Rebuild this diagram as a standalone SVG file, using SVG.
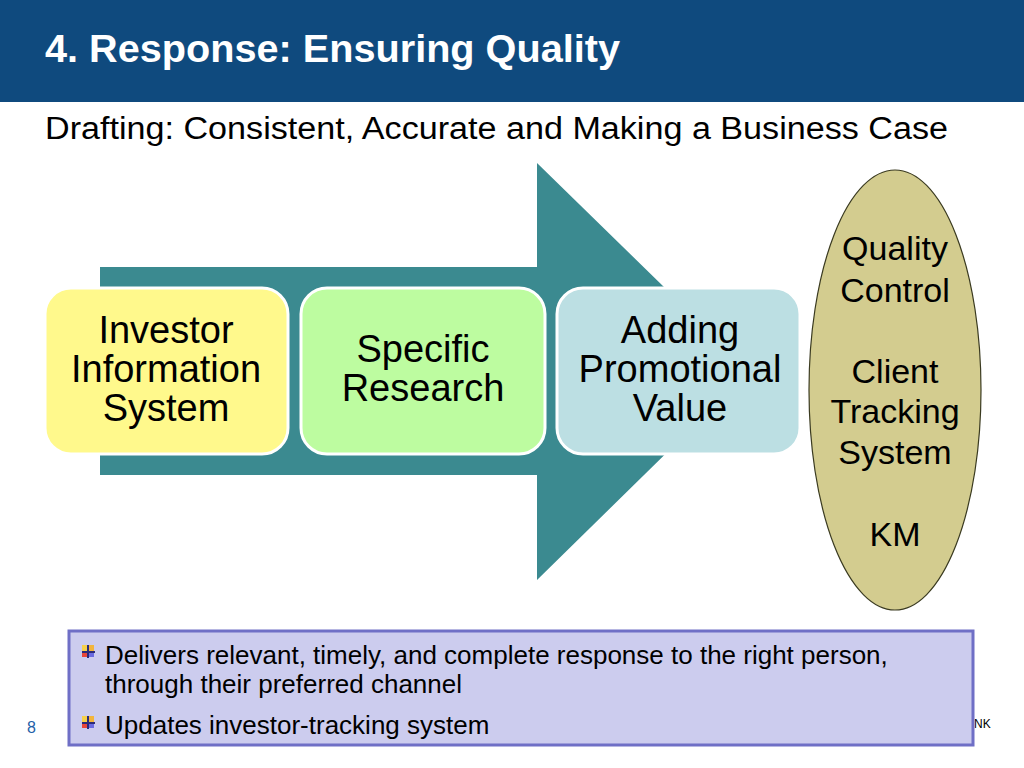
<svg xmlns="http://www.w3.org/2000/svg" width="1024" height="768" viewBox="0 0 1024 768">
<style>
  text { font-family: "Liberation Sans", Arial, sans-serif; fill: #000; }
  .title { font-size: 38px; font-weight: bold; fill: #fff; }
  .sub { font-size: 31px; }
  .box { stroke: #fff; stroke-width: 3; }
  .bt { font-size: 38px; text-anchor: middle; }
  .et { font-size: 34px; text-anchor: middle; }
  .bl { font-size: 26px; }
</style>
<defs>
  <g id="bullet">
    <rect x="0" y="0" width="6" height="6" fill="#f6d04a"/>
    <rect x="6" y="0" width="6" height="6" fill="#f3b53b"/>
    <rect x="0" y="6" width="6" height="6" fill="#e8463a"/>
    <rect x="6" y="6" width="6" height="6" fill="#6a6ae0"/>
    <rect x="5" y="0" width="2" height="13" fill="#2b2b7a"/>
    <rect x="0" y="6" width="13" height="2" fill="#2b2b7a"/>
  </g>
</defs>
<rect x="0" y="0" width="1024" height="768" fill="#fff"/>
<g id="header">
  <rect x="0" y="0" width="1024" height="102" fill="#0f4a7e"/>
  <text class="title" x="45" y="62" textLength="575" lengthAdjust="spacingAndGlyphs">4. Response: Ensuring Quality</text>
  <text class="sub" x="45" y="139" textLength="903" lengthAdjust="spacingAndGlyphs">Drafting: Consistent, Accurate and Making a Business Case</text>
</g>
<g id="arrow">
  <path d="M100 267 H537 V163 L750 371 L537 580 V475 H100 Z" fill="#3b8a90"/>
</g>
<g id="node-investor">
  <rect class="box" x="45" y="288" width="243" height="166" rx="26" fill="#fff98c"/>
  <text class="bt" x="166" y="343">Investor</text>
  <text class="bt" x="166" y="382">Information</text>
  <text class="bt" x="166" y="421">System</text>
</g>
<g id="node-research">
  <rect class="box" x="301" y="288" width="244" height="166" rx="26" fill="#bdfca0"/>
  <text class="bt" x="423" y="362">Specific</text>
  <text class="bt" x="423" y="401">Research</text>
</g>
<g id="node-promo">
  <rect class="box" x="557" y="288" width="243" height="166" rx="26" fill="#bcdfe3"/>
  <text class="bt" x="680" y="343">Adding</text>
  <text class="bt" x="680" y="382">Promotional</text>
  <text class="bt" x="680" y="421">Value</text>
</g>
<g id="node-quality">
  <ellipse cx="895" cy="390" rx="86" ry="220" fill="#d3cc8f" stroke="#3a3a20" stroke-width="1.2"/>
  <text class="et" x="895" y="260">Quality</text>
  <text class="et" x="895" y="302">Control</text>
  <text class="et" x="895" y="383">Client</text>
  <text class="et" x="895" y="423">Tracking</text>
  <text class="et" x="895" y="464">System</text>
  <text class="et" x="895" y="546">KM</text>
</g>
<g id="footer">
  <text x="27" y="733" style="font-size:16px; fill:#1f5fa8">8</text>
  <text x="974" y="728" style="font-size:12px">NK</text>
</g>
<g id="notes">
  <rect x="69" y="631" width="904" height="114" fill="#ccccee" stroke="#6f6fc6" stroke-width="3"/>
  <use href="#bullet" x="82" y="645"/>
  <text class="bl" x="105" y="664">Delivers relevant, timely, and complete response to the right person,</text>
  <text class="bl" x="105" y="693">through their preferred channel</text>
  <use href="#bullet" x="82" y="716"/>
  <text class="bl" x="105" y="734">Updates investor-tracking system</text>
</g>
<g id="connectors"></g>
</svg>
